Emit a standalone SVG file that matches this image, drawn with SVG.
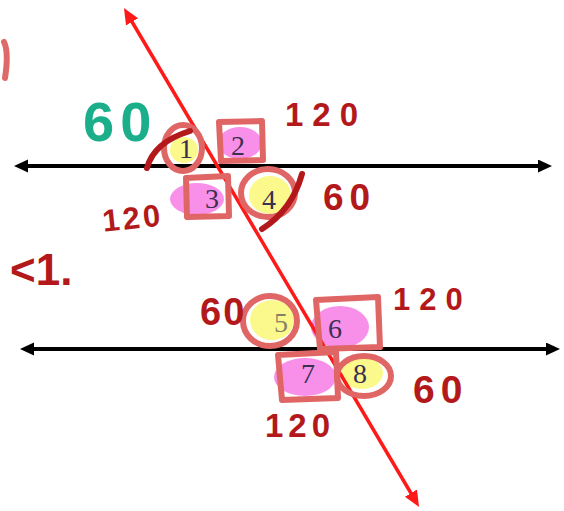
<svg xmlns="http://www.w3.org/2000/svg" width="564" height="511" viewBox="0 0 564 511">
<style>
.ink{font-family:"Liberation Sans",Arial,sans-serif;fill:#b3191b;font-weight:bold}
.num{font-family:"Liberation Serif","Times New Roman",serif;font-size:28px;fill:#3a3050;text-anchor:middle}
.ring{fill:none;stroke:#e06666;stroke-width:6;stroke-linejoin:round}
.yel{fill:#fbf88c}
.pink{fill:#f890ea}
.slash{fill:none;stroke:#b3191b;stroke-width:6;stroke-linecap:round}
</style>
<defs>
<marker id="ab" markerUnits="userSpaceOnUse" markerWidth="16" markerHeight="14" refX="8" refY="6.5" orient="auto-start-reverse">
<path d="M0,0 L14,6.5 L0,13 z" fill="#000"/>
</marker>
<marker id="ar" markerUnits="userSpaceOnUse" markerWidth="18" markerHeight="16" refX="8" refY="7" orient="auto-start-reverse">
<path d="M0,0 L16,7 L0,14 z" fill="#ff1a1a"/>
</marker>
</defs>
<rect width="564" height="511" fill="#fff"/>
<g id="connectors">
<line x1="20" y1="166" x2="546" y2="166" stroke="#000" stroke-width="4" marker-start="url(#ab)" marker-end="url(#ab)"/>
<line x1="26" y1="349" x2="554" y2="349" stroke="#000" stroke-width="4" marker-start="url(#ab)" marker-end="url(#ab)"/>
</g>
<g id="highlights">
<ellipse class="yel" cx="184" cy="150" rx="14" ry="13"/>
<ellipse class="pink" cx="240" cy="143" rx="22" ry="16"/>
<ellipse class="pink" cx="197" cy="199" rx="27" ry="16"/>
<ellipse class="yel" cx="270" cy="195" rx="21" ry="19"/>
<ellipse class="yel" cx="272" cy="320" rx="22" ry="20"/>
<ellipse class="pink" cx="340" cy="327" rx="29" ry="21"/>
<ellipse class="pink" cx="305" cy="377" rx="31" ry="19"/>
<ellipse class="yel" cx="362" cy="373" rx="21" ry="16"/>
</g>
<g id="transversal">
<line x1="128" y1="15" x2="415" y2="500" stroke="#ff1a1a" stroke-width="3.5" marker-start="url(#ar)" marker-end="url(#ar)"/>
</g>
<g id="angle1"><text class="num" x="186" y="158">1</text><ellipse class="ring" cx="183" cy="148" rx="19" ry="23"/><path class="slash" d="M147,168 Q154,142 190,131"/></g>
<g id="angle2"><text class="num" x="238" y="155">2</text><path class="ring" d="M219,122 L262,121 L263,160 L221,161 Z"/></g>
<g id="angle3"><text class="num" x="212" y="208">3</text><path class="ring" d="M186,178 L228,176 L229,216 L187,217 Z"/></g>
<g id="angle4"><text class="num" x="269" y="209">4</text><ellipse class="ring" cx="268" cy="193" rx="27" ry="24"/><path class="slash" d="M262,229 Q292,210 302,174"/></g>
<g id="angle5"><text class="num" x="281" y="332" opacity="0.6">5</text><ellipse class="ring" cx="270" cy="321" rx="27" ry="25"/></g>
<g id="angle6"><text class="num" x="335" y="338">6</text><path class="ring" d="M316,300 L378,297 L380,347 L320,349 Z"/></g>
<g id="angle7"><text class="num" x="308" y="383">7</text><path class="ring" d="M278,355 L336,352 L338,398 L282,400 Z"/></g>
<g id="angle8"><text class="num" x="360" y="383">8</text><ellipse class="ring" cx="364" cy="376" rx="27" ry="20"/></g>
<g id="labels">
<text class="ink" x="83" y="141" font-size="56" letter-spacing="6" style="fill:#1aaf8a">60</text>
<text class="ink" x="285" y="126" font-size="33" letter-spacing="9">120</text>
<text class="ink" x="102" y="229" font-size="31" letter-spacing="3" transform="rotate(-6 130 215)">120</text>
<text class="ink" x="323" y="210" font-size="37" letter-spacing="6">60</text>
<text class="ink" x="200" y="325" font-size="38" letter-spacing="2">60</text>
<text class="ink" x="393" y="310" font-size="31" letter-spacing="9">120</text>
<text class="ink" x="413" y="403" font-size="39" letter-spacing="6">60</text>
<text class="ink" x="265" y="437" font-size="33" letter-spacing="5">120</text>
<text class="ink" x="10" y="285" font-size="44">&lt;1.</text>
<path d="M4,42 Q9,52 5,78" fill="none" stroke="#e06a6a" stroke-width="6" stroke-linecap="round"/>
</g>
</svg>
